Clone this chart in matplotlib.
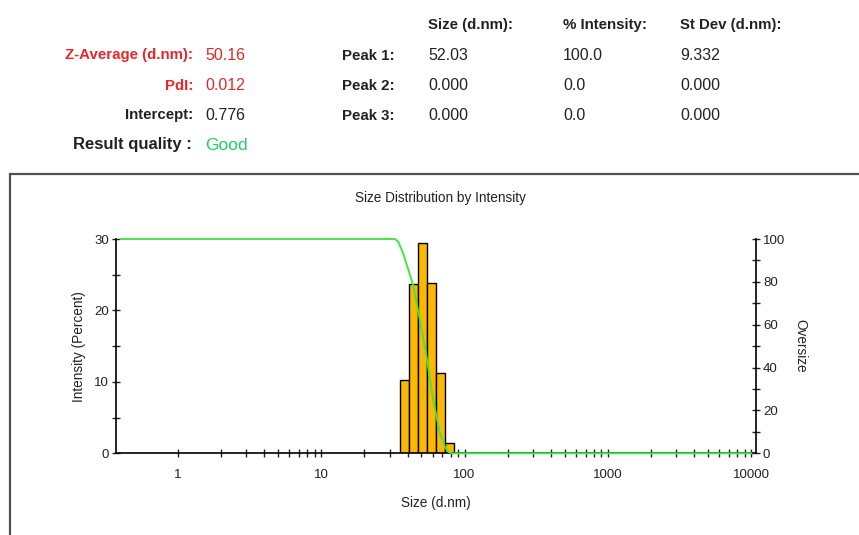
import numpy as np
import matplotlib.pyplot as plt
from matplotlib.patches import Rectangle
from matplotlib.ticker import FixedLocator, NullFormatter, FixedFormatter

plt.rcParams['font.family'] = ['Liberation Sans', 'DejaVu Sans']

# Datos de la distribucion por intensidad (barras)
size_bins = [37.84, 43.82, 50.75, 58.77, 68.06, 78.82]   # d.nm (centro del bin)
intensity = [10.3, 23.7, 29.5, 23.9, 11.3, 1.4]          # %
bin_ratio = 1.1556                                       # razon entre bins (log)

# Curva acumulada "Oversize"
oversize_size = [0.4, 32.7, 34.5, 37.3, 43.8, 48.8, 54.3, 60.4, 67.3, 72.9, 76.9, 82.0, 10000]
oversize_pct = [100, 100, 98.7, 93.3, 78.5, 62.2, 45.1, 24.9, 9.3, 3.1, 0.7, 0, 0]

# Tabla de resultados
summary_labels = ['Z-Average (d.nm):', 'PdI:', 'Intercept:']
summary_values = ['50.16', '0.012', '0.776']
quality = 'Good'
peak_names = ['Peak 1:', 'Peak 2:', 'Peak 3:']
peak_headers = ['Size (d.nm):', '% Intensity:', 'St Dev (d.nm):']
peak_size = ['52.03', '0.000', '0.000']
peak_int = ['100.0', '0.0', '0.0']
peak_sd = ['9.332', '0.000', '0.000']

RED = '#e8262a'
DARK = '#222222'
GREEN_TXT = '#22cc66'

W, H = 859, 535
fig = plt.figure(figsize=(W / 100, H / 100), dpi=100)


# Convierte pixeles de la imagen a coordenadas de figura
def px(x, y):
    return x / W, 1 - y / H


LAB_FS = 10.8
VAL_FS = 11.5

# Encabezado: resumen a la izquierda
rows_y = [55.5, 85.5, 115.5]
for lab, val, yy, col in zip(summary_labels, summary_values, rows_y, [RED, RED, DARK]):
    fig.text(*px(193, yy), lab, ha='right', va='center', fontsize=LAB_FS,
             fontweight='bold', color=col)
    fig.text(*px(205, yy), val, ha='left', va='center', fontsize=VAL_FS, color=col)
fig.text(*px(192, 145), 'Result quality :', ha='right', va='center', fontsize=12,
         fontweight='bold', color=DARK)
fig.text(*px(205, 146), quality, ha='left', va='center', fontsize=12.5, color=GREEN_TXT)

# Encabezado: tabla de picos
col_x = [428, 563, 680]
for hdr, cx in zip(peak_headers, col_x):
    fig.text(*px(cx, 25), hdr, ha='left', va='center', fontsize=LAB_FS,
             fontweight='bold', color=DARK)
for i, yy in enumerate(rows_y):
    fig.text(*px(395, yy), peak_names[i], ha='right', va='center', fontsize=LAB_FS,
             fontweight='bold', color=DARK)
    for cx, col in zip(col_x, [peak_size, peak_int, peak_sd]):
        fig.text(*px(cx, yy), col[i], ha='left', va='center', fontsize=VAL_FS, color=DARK)

# Marco del grafico
fig.add_artist(Rectangle((10 / W, -0.1), 1.0, 1 - 174 / H + 0.1, transform=fig.transFigure,
                         fill=False, edgecolor='#505050', lw=1.6))

# Ejes
x0, x1, y0, y1 = 116, 756, 239, 453.3
ax = fig.add_axes([x0 / W, 1 - y1 / H, (x1 - x0) / W, (y1 - y0) / H])

sizes = np.array(size_bins)
left = sizes / np.sqrt(bin_ratio)
widths = sizes * np.sqrt(bin_ratio) - left
ax.bar(left, intensity, width=widths, align='edge', color='#fbb800',
       edgecolor='black', linewidth=1.0, zorder=2)

ax.set_xscale('log')
ax.set_xlim(0.37, 10800)
ax.set_ylim(0, 30)

major = [1, 10, 100, 1000, 10000]
minor = [m * d for d in [1, 10, 100, 1000] for m in range(2, 10)]
ax.xaxis.set_major_locator(FixedLocator(major))
ax.xaxis.set_major_formatter(FixedFormatter(['1', '10', '100', '1000', '10000']))
ax.xaxis.set_minor_locator(FixedLocator(minor))
ax.xaxis.set_minor_formatter(NullFormatter())
ax.yaxis.set_major_locator(FixedLocator([0, 10, 20, 30]))
ax.yaxis.set_minor_locator(FixedLocator([5, 15, 25]))

ax.tick_params(axis='x', which='both', direction='inout', length=6, width=1,
               labelsize=9.5, pad=8, colors=DARK)
ax.tick_params(axis='y', which='both', direction='inout', length=6, width=1,
               labelsize=9.5, pad=2, colors=DARK)
for s in ['top', 'right']:
    ax.spines[s].set_visible(False)
for s in ['left', 'bottom']:
    ax.spines[s].set_linewidth(1.2)

ax.set_ylabel('Intensity (Percent)', fontsize=9.8, color=DARK, labelpad=6)
ax.set_xlabel('Size (d.nm)', fontsize=9.8, color=DARK, labelpad=11)

ax2 = ax.twinx()
ax2.plot(oversize_size, oversize_pct, color='#44e644', lw=1.4, clip_on=False, zorder=3)
ax2.set_ylim(0, 100)
ax2.yaxis.set_major_locator(FixedLocator([0, 20, 40, 60, 80, 100]))
ax2.yaxis.set_minor_locator(FixedLocator([10, 30, 50, 70, 90]))
ax2.tick_params(axis='y', which='both', direction='inout', length=6, width=1,
                labelsize=9.5, pad=2, colors=DARK)
for s in ['top', 'left', 'bottom']:
    ax2.spines[s].set_visible(False)
ax2.spines['right'].set_linewidth(1.2)
ax2.set_ylabel('Oversize', fontsize=9.8, color=DARK, rotation=-90, labelpad=16)

fig.text(*px(440, 198), 'Size Distribution by Intensity', ha='center', va='center',
         fontsize=9.8, color=DARK)

fig.savefig('out.png', dpi=100)
